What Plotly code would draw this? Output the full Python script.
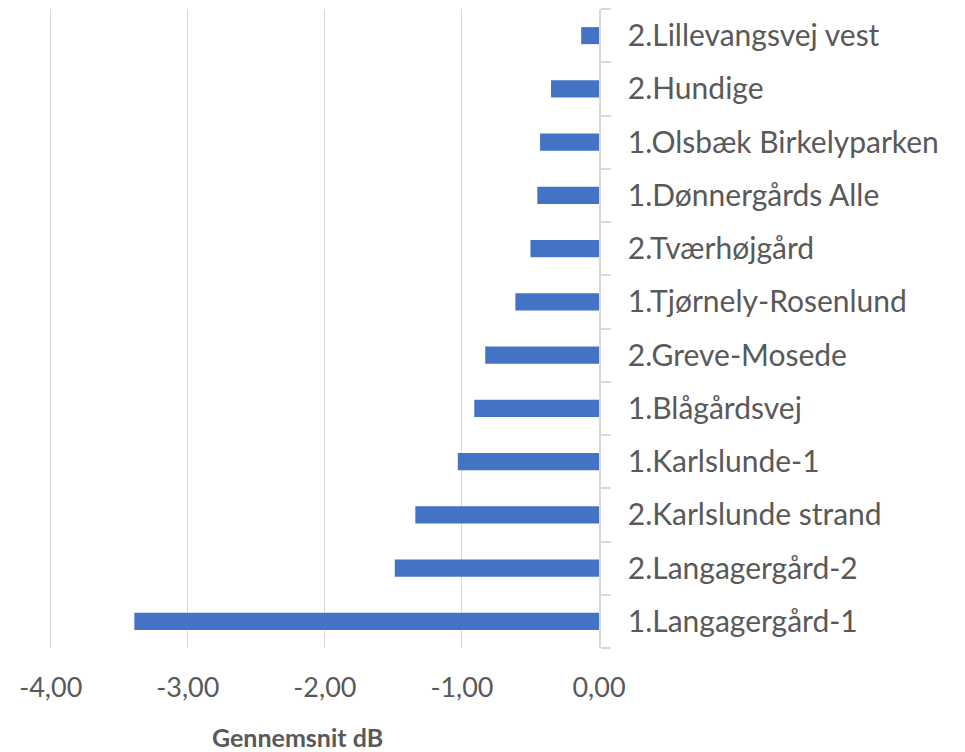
import plotly.graph_objects as go

categories = [
    "1.Langagergård-1",
    "2.Langagergård-2",
    "2.Karlslunde strand",
    "1.Karlslunde-1",
    "1.Blågårdsvej",
    "2.Greve-Mosede",
    "1.Tjørnely-Rosenlund",
    "2.Tværhøjgård",
    "1.Dønnergårds Alle",
    "1.Olsbæk Birkelyparken",
    "2.Hundige",
    "2.Lillevangsvej vest",
]
values = [-3.39, -1.49, -1.34, -1.03, -0.91, -0.83, -0.61, -0.50, -0.45, -0.43, -0.35, -0.13]
x_ticks = [-4, -3, -2, -1, 0]
x_ticktext = ["-4,00", "-3,00", "-2,00", "-1,00", "0,00"]
x_title = "Gennemsnit dB"

FONT = "Lato"
GREY = "#595959"

W, H = 957, 744
L, R, T, B = 40, 366, 1, 104
plot_w = W - L - R
plot_h = H - T - B
x_range = [-4.02, 0]

fig = go.Figure(
    go.Bar(
        x=values,
        y=categories,
        orientation="h",
        marker=dict(color="#4472C4", line=dict(width=0)),
    )
)

title_x = (297 - 8 - L) / plot_w

fig.update_layout(
    width=W,
    height=H,
    margin=dict(l=L, r=R, t=T, b=B),
    plot_bgcolor="white",
    paper_bgcolor="white",
    bargap=0.68,
    showlegend=False,
    font=dict(family=FONT, color=GREY),
    xaxis=dict(
        range=x_range,
        tickvals=x_ticks,
        ticktext=x_ticktext,
        showgrid=True,
        gridcolor="#D9D9D9",
        gridwidth=1,
        zeroline=False,
        showline=False,
        ticks="",
        ticklabelstandoff=21,
        tickfont=dict(size=27, family=FONT, color=GREY),
    ),
    yaxis=dict(
        type="category",
        categoryorder="array",
        categoryarray=categories,
        side="right",
        showline=True,
        linecolor="#D9D9D9",
        linewidth=1.5,
        ticks="outside",
        tickson="boundaries",
        ticklen=10,
        tickcolor="#D9D9D9",
        tickwidth=1.5,
        showgrid=False,
        ticklabelstandoff=21,
        tickfont=dict(size=30, family=FONT, color=GREY),
    ),
    annotations=[
        dict(
            text="<b>" + x_title + "</b>",
            xref="paper",
            yref="paper",
            x=title_x,
            y=-89 / plot_h,
            xanchor="center",
            yanchor="middle",
            showarrow=False,
            font=dict(size=25, family=FONT, color=GREY),
        )
    ],
)

fig.write_html("out.html")
